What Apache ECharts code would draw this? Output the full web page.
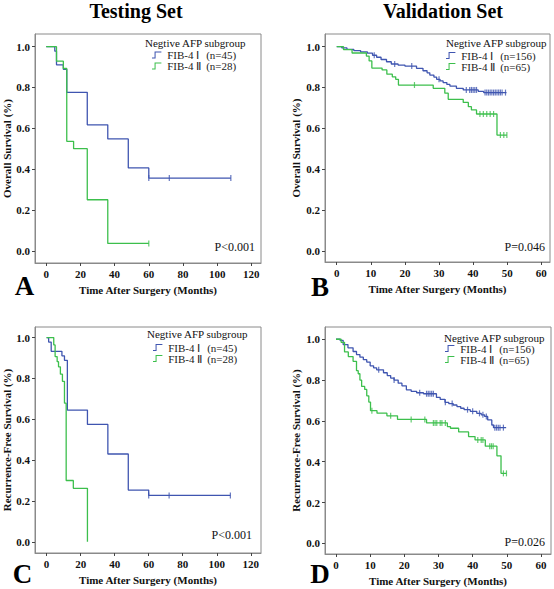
<!DOCTYPE html>
<html><head><meta charset="utf-8">
<script src="https://cdn.jsdelivr.net/npm/echarts@6/dist/echarts.min.js"></script>
<style>html,body{margin:0;padding:0;background:#fff}#c{width:554px;height:589px}</style>
</head><body><div id="c"></div>
<script>
// ---------------- DATA ----------------
const columnTitles = ['Testing Set', 'Validation Set'];
const panelLetters = ['A', 'B', 'C', 'D'];
const pValues = ['P<0.001', 'P=0.046', 'P<0.001', 'P=0.026'];
const legendHeading = 'Negtive AFP subgroup';
const xAxisName = 'Time After Surgery (Months)';
const yAxisNames = ['Overall Survival (%)', 'Overall Survival (%)', 'Recurrence-Free Survival (%)', 'Recurrence-Free Survival (%)'];
const groupsTesting = ['FIB-4 Ⅰ  (n=45)', 'FIB-4 Ⅱ  (n=28)'];
const groupsValidation = ['FIB-4 Ⅰ  (n=156)', 'FIB-4 Ⅱ  (n=65)'];
const xTicksTesting = [0, 20, 40, 60, 80, 100, 120];
const xTicksValidation = [0, 10, 20, 30, 40, 50, 60];
const yTicks = [0, 0.2, 0.4, 0.6, 0.8, 1.0];

// Panel A (Testing, overall survival)
const tA1 = [0, 5, 6, 10, 12, 24, 36, 48, 60, 108];
const sA1 = [1, 0.978, 0.911, 0.889, 0.776, 0.617, 0.548, 0.406, 0.356, 0.356];
const cA1 = [60, 72, 108];
const tA2 = [0, 6, 10, 12, 16, 24, 36, 60];
const sA2 = [1, 0.929, 0.893, 0.536, 0.500, 0.250, 0.036, 0.036];
const cA2 = [60];

// Panel B (Validation, overall survival)
const tB1 = [0, 1.5, 3, 5, 7, 9, 10.5, 11.7, 13, 14.6, 16, 18, 20, 23.4, 25.3, 26.5, 27.3, 28.5, 29.3, 30.3, 31.2, 32.3, 33.2, 35.1, 37.1, 41.5, 43.1, 49.8];
const sB1 = [1, 0.994, 0.987, 0.981, 0.974, 0.968, 0.958, 0.948, 0.937, 0.926, 0.915, 0.910, 0.905, 0.894, 0.882, 0.872, 0.861, 0.851, 0.840, 0.832, 0.824, 0.815, 0.807, 0.796, 0.788, 0.781, 0.775, 0.775];
const cB1 = [11, 17, 22, 30, 38, 39, 39.5, 40, 40.5, 41, 43.5, 44, 44.5, 45, 45.5, 46, 46.5, 47, 47.5, 48, 48.5, 49.5];
const tB2 = [0, 2, 4.5, 8.7, 9.5, 10.3, 13.3, 14.7, 16.3, 17.3, 18.1, 28.3, 31.7, 32.7, 37.1, 38.6, 39.5, 41.0, 47.0, 49.9];
const sB2 = [1, 0.985, 0.969, 0.954, 0.930, 0.895, 0.886, 0.865, 0.852, 0.840, 0.812, 0.796, 0.772, 0.742, 0.727, 0.706, 0.690, 0.670, 0.567, 0.567];
const cB2 = [22.8, 42, 43, 44, 45, 46, 48, 49, 49.9];

// Panel C (Testing, recurrence-free survival)
const tC1 = [0, 1.2, 2.7, 9, 10.5, 12.2, 24, 36, 48, 60, 108];
const sC1 = [1, 0.978, 0.933, 0.911, 0.889, 0.645, 0.575, 0.430, 0.253, 0.227, 0.227];
const cC1 = [60, 72, 108];
const tC2 = [0, 4.2, 5, 6.2, 7, 8.1, 9.3, 10.5, 11.5, 15.7, 24];
const sC2 = [1, 0.964, 0.907, 0.882, 0.857, 0.821, 0.786, 0.679, 0.300, 0.262, 0];
const cC2 = [];

// Panel D (Validation, recurrence-free survival)
const tD1 = [0, 1.2, 2.1, 3.5, 5, 6, 7, 8, 9, 10, 11, 11.9, 13.9, 15, 16, 17, 18.2, 19.3, 20.6, 22, 23.6, 25.6, 29.4, 30.5, 31.9, 33, 34.3, 35.4, 36.5, 37.5, 39.3, 41.2, 42.5, 43.5, 44.4, 45.6, 46.1, 49.8];
const sD1 = [1, 0.994, 0.974, 0.958, 0.940, 0.925, 0.912, 0.900, 0.888, 0.870, 0.860, 0.850, 0.836, 0.822, 0.810, 0.800, 0.785, 0.772, 0.752, 0.745, 0.738, 0.733, 0.715, 0.705, 0.691, 0.685, 0.678, 0.670, 0.662, 0.655, 0.647, 0.637, 0.630, 0.622, 0.605, 0.580, 0.567, 0.567];
const cD1 = [12.5, 17, 24.5, 26.5, 27, 27.5, 28, 28.5, 32, 34, 38.5, 40, 42, 43, 44, 46.5, 47, 47.5, 48, 49];
const tD2 = [0, 1.5, 2.5, 3.6, 5, 6, 6.5, 7, 7.5, 8.4, 9, 9.6, 10.1, 12, 14.9, 18, 26.5, 32.6, 33.5, 35.9, 38.8, 40.7, 43.7, 47.1, 48.3, 49.9];
const sD2 = [1, 0.985, 0.938, 0.915, 0.892, 0.846, 0.831, 0.800, 0.769, 0.754, 0.723, 0.692, 0.650, 0.638, 0.625, 0.607, 0.590, 0.572, 0.564, 0.546, 0.523, 0.507, 0.476, 0.429, 0.343, 0.343];
const cD2 = [10.5, 16, 22, 26, 28.5, 29, 29.5, 30.5, 31, 32, 41.5, 42.5, 43, 45, 45.5, 46, 49, 49.9];

// ---------------- LAYOUT / STYLE ----------------
const SERIF = '"Liberation Serif","Times New Roman",serif';
const BLUE = '#3f55b0', GREEN = '#3cbf4c', FRAME = '#8a8a8a';
const panels = [
  {grid:{left:34, top:34, width:227, height:229}, x:[-6.58,125.65], y:[-0.060,1.062], xt:xTicksTesting, names:groupsTesting,
   curves:[[tA1,sA1,cA1],[tA2,sA2,cA2]], legend:{left:152, top:49.5}, head:[145,43], p:[255,247], letter:[24.5,286], yGap:23},
  {grid:{left:325, top:34, width:225, height:228}, x:[-3.44,62.55], y:[-0.055,1.062], xt:xTicksValidation, names:groupsValidation,
   curves:[[tB1,sB1,cB1],[tB2,sB2,cB2]], legend:{left:446, top:50}, head:[446,43.3], p:[545,247], letter:[320,287], yGap:24},
  {grid:{left:33, top:327, width:228, height:226}, x:[-6.82,126], y:[-0.055,1.052], xt:xTicksTesting, names:groupsTesting,
   curves:[[tC1,sC1,cC1],[tC2,sC2,cC2]], legend:{left:153, top:342}, head:[147,334.3], p:[252,535], letter:[22.5,574], yGap:23},
  {grid:{left:325, top:327, width:226, height:227}, x:[-3.22,62.93], y:[-0.052,1.060], xt:xTicksValidation, names:groupsValidation,
   curves:[[tD1,sD1,cD1],[tD2,sD2,cD2]], legend:{left:445, top:343}, head:[444,337.7], p:[545,542], letter:[320,574], yGap:24}
];

function stepValueAt(times, surv, t) {
  let v = surv[0];
  for (let i = 0; i < times.length; i++) { if (times[i] <= t) v = surv[i]; }
  return v;
}

const LEGEND_ICON = 'path://M0,7 L3,7 L3,0 L11,0 L11,1.2 L4.2,1.2 L4.2,8.2 L0,8.2 Z';

const grid = [], xAxis = [], yAxis = [], series = [], legend = [], graphic = [];
panels.forEach((p, i) => {
  grid.push(Object.assign({show:true, borderColor:FRAME, borderWidth:1, backgroundColor:'transparent'}, p.grid));
  xAxis.push({
    gridIndex:i, type:'value', min:p.x[0], max:p.x[1],
    axisLine:{show:true, onZero:false, lineStyle:{color:FRAME, width:1}},
    axisTick:{show:true, length:3, customValues:p.xt, lineStyle:{color:'#444'}},
    axisLabel:{customValues:p.xt, margin:5, fontFamily:SERIF, fontWeight:'bold', fontSize:11, color:'#111'},
    splitLine:{show:false},
    name:xAxisName, nameLocation:'middle', nameGap:21,
    nameTextStyle:{fontFamily:SERIF, fontWeight:'bold', fontSize:11, color:'#111'}
  });
  yAxis.push({
    gridIndex:i, type:'value', min:p.y[0], max:p.y[1],
    axisLine:{show:true, onZero:false, lineStyle:{color:FRAME, width:1}},
    axisTick:{show:true, length:3, customValues:yTicks, lineStyle:{color:'#444'}},
    axisLabel:{customValues:yTicks, margin:5, formatter:v => v.toFixed(1), fontFamily:SERIF, fontWeight:'bold', fontSize:11, color:'#111'},
    splitLine:{show:false},
    name:yAxisNames[i], nameLocation:'middle', nameGap:p.yGap, nameRotate:90,
    nameTextStyle:{fontFamily:SERIF, fontWeight:'bold', fontSize:11, color:'#111'}
  });
  const colors = [BLUE, GREEN];
  p.curves.forEach((c, k) => {
    const [ts, ss, cs] = c;
    series.push({
      type:'line', name:p.names[k], xAxisIndex:i, yAxisIndex:i, step:'end', symbol:'none',
      color:colors[k], lineStyle:{color:colors[k], width:1.3}, itemStyle:{color:colors[k], borderWidth:0},
      data: ts.map((t, j) => [t, ss[j]]), animation:false, z:3 + k
    });
    if (cs.length) {
      series.push({
        type:'scatter', name:'censor-' + i + '-' + k, xAxisIndex:i, yAxisIndex:i,
        symbol:'rect', symbolSize:[1.2, 6], itemStyle:{color:colors[k]},
        data: cs.map(t => [t, stepValueAt(ts, ss, t)]), animation:false, z:3 + k, silent:true
      });
    }
  });
  legend.push({
    data:p.names, orient:'vertical', left:p.legend.left, top:p.legend.top, padding:0,
    itemWidth:11, itemHeight:7, itemGap:0, icon:LEGEND_ICON, selectedMode:false,
    itemStyle:{borderWidth:0},
    formatter: n => { const parts = n.split('  '); return '{a|' + parts[0] + '}{b|' + parts[1] + '}'; },
    textStyle:{fontFamily:SERIF, fontSize:11, color:'#222', lineHeight:11,
      rich:{a:{width:39, fontFamily:SERIF, fontSize:11, color:'#222', lineHeight:11}, b:{fontFamily:SERIF, fontSize:11, color:'#222', lineHeight:11}}}
  });
  graphic.push({type:'text', x:p.head[0], y:p.head[1], style:{text:legendHeading, font:'11px ' + SERIF, fill:'#111', textAlign:'left', textVerticalAlign:'middle'}});
  graphic.push({type:'text', x:p.p[0], y:p.p[1], style:{text:pValues[i], font:'12px ' + SERIF, fill:'#111', textAlign:'right', textVerticalAlign:'middle'}});
  graphic.push({type:'text', x:p.letter[0], y:p.letter[1], style:{text:panelLetters[i], font:'bold 27px ' + SERIF, fill:'#000', textAlign:'center', textVerticalAlign:'middle'}});
});
graphic.push({type:'text', x:136, y:11, style:{text:columnTitles[0], font:'bold 20px ' + SERIF, fill:'#000', textAlign:'center', textVerticalAlign:'middle'}});
graphic.push({type:'text', x:443, y:11, style:{text:columnTitles[1], font:'bold 20px ' + SERIF, fill:'#000', textAlign:'center', textVerticalAlign:'middle'}});

const chart = echarts.init(document.getElementById('c'), null, {renderer:'svg'});
chart.setOption({animation:false, backgroundColor:'#fff', grid, xAxis, yAxis, series, legend, graphic});
</script>
</body></html>
